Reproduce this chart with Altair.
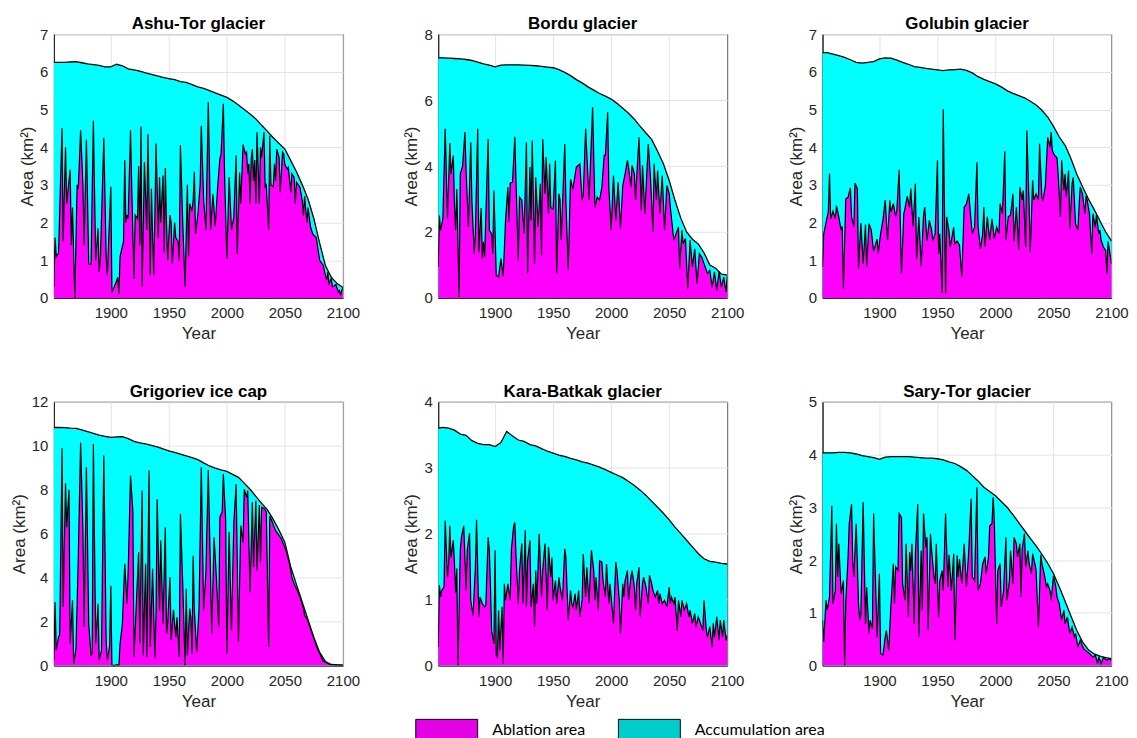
import altair as alt
import pandas as pd

# ---------------- data ----------------
X_TICKS = [1900, 1950, 2000, 2050, 2100]
TOTAL_YEARS = list(range(1850, 2101, 5))

ASHU_TOTAL = [6.25, 6.25, 6.25, 6.26, 6.27, 6.24, 6.21, 6.19, 6.17, 6.13,
              6.13, 6.20, 6.16, 6.08, 6.05, 6.02, 5.97, 5.93, 5.89, 5.85,
              5.82, 5.79, 5.74, 5.72, 5.66, 5.60, 5.56, 5.50, 5.44, 5.38,
              5.32, 5.23, 5.12, 5.00, 4.88, 4.75, 4.58, 4.42, 4.25, 4.10,
              3.95, 3.65, 3.35, 3.00, 2.62, 2.10, 1.45, 0.85, 0.55, 0.38, 0.28]
ASHU_ABL = [(1851, 0.3), (1852, 1.6), (1853, 1.1), (1855, 1.2), (1858, 4.5), (1859, 1.5),
            (1861, 4.0), (1862, 2.5), (1865, 3.4), (1866, 1.4), (1867, 2.4), (1869, 0.0),
            (1871, 3.0), (1872, 2.9), (1874, 4.45), (1876, 3.0), (1877, 1.4), (1879, 4.2),
            (1881, 0.9), (1883, 0.9), (1885, 4.7), (1887, 1.0), (1889, 1.85), (1890, 0.7),
            (1891, 1.0), (1894, 4.25), (1896, 1.1), (1897, 0.6), (1900, 2.95), (1901, 0.15),
            (1903, 0.3), (1905, 0.45), (1906, 0.55), (1907, 0.1), (1908, 1.1), (1911, 1.5),
            (1912, 3.65), (1913, 2.0), (1914, 2.2), (1915, 2.1), (1917, 4.45), (1918, 3.0),
            (1920, 0.5), (1921, 2.2), (1923, 2.1), (1924, 3.5), (1925, 1.4), (1926, 4.55),
            (1927, 0.3), (1929, 3.6), (1931, 1.8), (1932, 4.35), (1934, 0.6), (1935, 2.9),
            (1937, 0.6), (1938, 2.2), (1939, 4.1), (1941, 1.6), (1942, 3.2), (1943, 2.0),
            (1945, 3.25), (1946, 1.2), (1947, 3.45), (1948, 2.0), (1949, 1.0), (1951, 2.2),
            (1952, 2.0), (1953, 0.9), (1955, 2.0), (1956, 1.6), (1958, 1.5), (1959, 1.0),
            (1960, 4.05), (1962, 2.0), (1964, 0.3), (1966, 3.0), (1967, 1.1), (1968, 2.5),
            (1970, 2.3), (1971, 2.6), (1972, 3.35), (1973, 1.7), (1975, 2.2), (1977, 3.0),
            (1978, 4.57), (1980, 2.6), (1982, 1.8), (1984, 5.2), (1986, 1.8), (1988, 2.75),
            (1990, 1.9), (1992, 2.9), (1994, 3.7), (1995, 3.8), (1997, 5.15), (1998, 3.3),
            (2000, 1.04), (2002, 3.2), (2004, 1.8), (2006, 2.15), (2008, 3.78), (2009, 1.17),
            (2011, 3.33), (2012, 2.5), (2014, 4.07), (2016, 3.82), (2017, 3.87), (2018, 3.3),
            (2019, 3.56), (2020, 2.5), (2021, 3.69), (2022, 3.95), (2023, 3.1), (2024, 3.66),
            (2025, 2.5), (2026, 4.4), (2028, 2.5), (2029, 4.0), (2030, 3.73), (2032, 4.4),
            (2033, 2.95), (2034, 3.0), (2036, 1.8), (2037, 4.3), (2038, 3.0), (2040, 2.95),
            (2041, 3.56), (2042, 3.1), (2043, 3.95), (2045, 3.73), (2046, 2.8), (2048, 3.87),
            (2049, 3.82), (2050, 3.54), (2052, 3.42), (2053, 3.47), (2055, 2.8), (2056, 3.3),
            (2058, 3.2), (2059, 2.5), (2060, 3.07), (2063, 2.94), (2065, 2.58), (2066, 2.19),
            (2067, 2.7), (2069, 2.0), (2070, 2.4), (2072, 1.9), (2074, 1.7), (2077, 1.6),
            (2080, 1.0), (2083, 0.87), (2084, 0.73), (2086, 0.47), (2087, 0.69), (2088, 0.38),
            (2090, 0.52), (2091, 0.29), (2094, 0.36), (2096, 0.16), (2097, 0.2), (2098, 0.07),
            (2099, 0.2), (2100, 0.27)]

BORDU_TOTAL = [7.28, 7.28, 7.27, 7.26, 7.25, 7.23, 7.20, 7.15, 7.10, 7.06,
               7.01, 7.06, 7.07, 7.07, 7.07, 7.06, 7.05, 7.04, 7.02, 7.00,
               6.98, 6.92, 6.84, 6.74, 6.62, 6.52, 6.40, 6.30, 6.20, 6.12,
               6.03, 5.90, 5.75, 5.60, 5.42, 5.20, 5.00, 4.80, 4.45, 4.07,
               3.56, 2.96, 2.42, 2.00, 1.78, 1.64, 1.37, 1.00, 0.90, 0.72, 0.69]
BORDU_ABL = [(1851, 0.94), (1852, 2.5), (1853, 2.05), (1855, 2.4), (1857, 5.13), (1859, 2.4),
             (1861, 4.7), (1862, 3.76), (1864, 4.32), (1865, 2.8), (1866, 2.05), (1867, 3.3),
             (1869, 0.03), (1870, 3.76), (1872, 4.0), (1874, 5.03), (1875, 3.85), (1877, 2.15),
             (1879, 4.72), (1880, 2.95), (1882, 1.34), (1883, 1.95), (1885, 5.13), (1886, 1.39),
             (1888, 2.73), (1889, 1.19), (1890, 1.7), (1891, 1.25), (1894, 4.82), (1895, 2.05),
             (1897, 1.95), (1898, 1.34), (1899, 3.26), (1901, 0.69), (1903, 0.64), (1905, 1.19),
             (1907, 0.66), (1909, 2.35), (1911, 3.36), (1912, 2.3), (1913, 3.48), (1915, 3.51),
             (1917, 4.89), (1918, 3.56), (1920, 1.14), (1921, 3.06), (1923, 2.96), (1925, 1.95),
             (1927, 4.72), (1928, 0.74), (1930, 3.97), (1931, 2.35), (1932, 4.77), (1934, 1.04),
             (1935, 3.66), (1937, 2.15), (1939, 3.46), (1940, 1.29), (1941, 4.82), (1943, 3.16),
             (1944, 4.27), (1946, 2.55), (1947, 4.07), (1948, 2.73), (1950, 2.7), (1952, 4.17),
             (1953, 0.74), (1955, 3.16), (1956, 2.96), (1957, 1.75), (1960, 4.67), (1961, 2.96),
             (1963, 0.86), (1965, 3.6), (1967, 3.3), (1970, 3.97), (1973, 4.07), (1975, 2.96),
             (1976, 3.16), (1978, 5.13), (1980, 3.66), (1981, 2.96), (1984, 5.78), (1986, 2.75),
             (1988, 3.06), (1990, 2.96), (1992, 3.36), (1994, 4.32), (1995, 4.32), (1997, 5.63),
             (1998, 3.36), (2000, 2.05), (2002, 3.71), (2004, 2.35), (2006, 3.51), (2008, 2.1),
             (2010, 3.41), (2012, 3.76), (2014, 4.17), (2015, 3.96), (2017, 3.36), (2018, 4.02),
             (2020, 3.76), (2021, 2.96), (2022, 3.66), (2024, 4.87), (2026, 2.65), (2027, 4.02),
             (2029, 2.55), (2031, 3.97), (2032, 4.67), (2034, 3.56), (2036, 2.0), (2037, 4.07),
             (2039, 2.96), (2040, 3.86), (2042, 2.55), (2044, 3.71), (2046, 2.05), (2048, 3.41),
             (2050, 3.16), (2051, 2.75), (2054, 1.75), (2056, 1.95), (2058, 2.15), (2059, 0.89),
             (2061, 2.05), (2062, 1.64), (2064, 1.8), (2066, 0.28), (2068, 1.75), (2070, 0.94),
             (2072, 1.49), (2074, 0.43), (2076, 1.34), (2078, 1.24), (2080, 1.04), (2083, 0.74),
             (2085, 0.84), (2087, 0.33), (2089, 0.79), (2091, 0.23), (2093, 0.8), (2095, 0.33),
             (2097, 0.63), (2099, 0.18), (2100, 0.66)]

GOLUBIN_TOTAL = [6.51, 6.51, 6.47, 6.43, 6.38, 6.32, 6.25, 6.23, 6.25, 6.27,
                 6.34, 6.37, 6.36, 6.31, 6.25, 6.20, 6.14, 6.12, 6.09, 6.07,
                 6.05, 6.03, 6.05, 6.06, 6.07, 6.04, 5.97, 5.87, 5.80, 5.74,
                 5.68, 5.60, 5.50, 5.43, 5.37, 5.31, 5.22, 5.12, 4.98, 4.80,
                 4.55, 4.27, 4.05, 3.70, 3.29, 2.95, 2.63, 2.35, 2.05, 1.75, 1.51]
GOLUBIN_ABL = [(1851, 0.82), (1852, 1.7), (1854, 2.0), (1856, 2.3), (1857, 3.3), (1858, 2.1),
               (1860, 2.3), (1862, 2.1), (1863, 2.45), (1865, 2.15), (1867, 1.8), (1868, 1.9),
               (1869, 0.25), (1871, 2.63), (1873, 2.67), (1875, 2.92), (1876, 2.15), (1878, 1.88),
               (1879, 3.05), (1881, 2.9), (1882, 0.78), (1884, 1.99), (1886, 0.91), (1888, 1.95),
               (1889, 0.82), (1891, 1.97), (1893, 1.8), (1895, 1.24), (1898, 1.56), (1899, 1.19),
               (1901, 1.7), (1903, 2.06), (1905, 2.6), (1907, 1.53), (1909, 2.59), (1910, 2.28),
               (1912, 2.5), (1914, 2.16), (1915, 2.32), (1917, 3.4), (1919, 0.64), (1921, 2.23),
               (1922, 2.37), (1924, 2.7), (1926, 2.4), (1927, 2.9), (1929, 1.9), (1931, 3.03),
               (1932, 1.04), (1934, 2.15), (1936, 0.84), (1938, 2.19), (1939, 2.41), (1941, 1.51),
               (1943, 2.06), (1945, 1.8), (1946, 1.53), (1948, 1.7), (1950, 3.65), (1951, 1.17),
               (1952, 1.7), (1954, 0.13), (1955, 5.01), (1957, 0.12), (1958, 2.15), (1960, 1.75),
               (1961, 1.35), (1964, 1.88), (1965, 1.44), (1967, 1.51), (1969, 1.4), (1971, 0.56),
               (1973, 2.41), (1975, 2.5), (1977, 2.76), (1978, 2.4), (1980, 1.7), (1982, 1.88),
               (1984, 3.6), (1985, 1.9), (1987, 1.31), (1989, 1.7), (1990, 2.41), (1991, 1.35),
               (1993, 2.15), (1995, 1.53), (1997, 2.1), (1999, 1.57), (2001, 1.88), (2003, 1.7),
               (2004, 2.5), (2006, 2.23), (2008, 3.89), (2009, 1.53), (2011, 2.15), (2013, 2.2),
               (2015, 2.76), (2016, 1.5), (2018, 2.41), (2020, 1.28), (2021, 2.94), (2023, 2.6),
               (2024, 2.85), (2026, 1.35), (2027, 4.44), (2029, 2.45), (2030, 1.22), (2032, 3.12),
               (2033, 2.6), (2035, 2.76), (2037, 2.6), (2038, 4.09), (2040, 2.66), (2041, 2.6),
               (2043, 2.98), (2045, 4.26), (2047, 4.0), (2048, 4.4), (2049, 3.91), (2051, 3.78),
               (2053, 3.72), (2054, 3.29), (2056, 2.15), (2057, 3.65), (2059, 2.85), (2060, 3.29),
               (2061, 2.67), (2063, 3.38), (2064, 1.84), (2066, 3.03), (2067, 3.2), (2069, 1.97),
               (2071, 1.8), (2072, 2.41), (2073, 2.94), (2075, 2.76), (2077, 2.23), (2078, 2.7),
               (2079, 2.6), (2081, 2.23), (2083, 1.17), (2084, 2.23), (2086, 1.88), (2087, 2.2),
               (2089, 1.7), (2090, 1.8), (2091, 1.53), (2093, 1.35), (2095, 1.26), (2096, 0.64),
               (2097, 1.5), (2099, 1.1), (2100, 0.91)]

GRIG_TOTAL = [10.83, 10.83, 10.82, 10.80, 10.79, 10.72, 10.64, 10.56, 10.48, 10.43,
              10.38, 10.40, 10.41, 10.32, 10.20, 10.13, 10.08, 10.02, 9.95, 9.86,
              9.77, 9.70, 9.62, 9.54, 9.46, 9.37, 9.22, 9.08, 8.98, 8.90,
              8.83, 8.70, 8.56, 8.30, 8.02, 7.70, 7.38, 7.08, 6.65, 6.15,
              5.60, 4.50, 3.68, 2.88, 2.08, 1.28, 0.60, 0.18, 0.05, 0.03, 0.02]
GRIG_ABL = [(1851, 0.24), (1852, 2.89), (1853, 0.7), (1855, 1.3), (1856, 1.4), (1858, 9.88),
            (1859, 2.66), (1861, 8.29), (1862, 6.29), (1864, 8.0), (1865, 1.0), (1867, 2.97),
            (1868, 0.09), (1870, 0.77), (1872, 4.93), (1874, 10.15), (1876, 6.14), (1877, 1.75),
            (1879, 9.02), (1881, 1.9), (1883, 0.47), (1884, 0.55), (1885, 10.08), (1887, 1.0),
            (1889, 2.81), (1890, 0.24), (1892, 0.7), (1894, 9.55), (1896, 1.15), (1897, 0.24),
            (1899, 0.9), (1900, 3.63), (1901, 0.02), (1903, 0.0), (1905, 0.05), (1907, 0.0),
            (1908, 1.0), (1910, 1.9), (1912, 4.63), (1914, 2.81), (1915, 4.33), (1917, 8.64),
            (1919, 7.05), (1920, 0.39), (1922, 2.81), (1924, 5.16), (1925, 1.0), (1927, 7.96),
            (1928, 0.47), (1930, 4.63), (1931, 0.4), (1933, 8.87), (1934, 0.85), (1936, 4.4),
            (1938, 0.32), (1939, 2.36), (1940, 7.58), (1942, 2.51), (1943, 5.69), (1945, 1.9),
            (1947, 6.29), (1948, 1.45), (1949, 1.9), (1951, 4.02), (1952, 1.15), (1954, 2.54),
            (1956, 1.3), (1957, 2.2), (1959, 0.39), (1960, 6.9), (1962, 3.72), (1964, 0.02),
            (1965, 3.49), (1966, 0.47), (1968, 2.59), (1969, 2.2), (1970, 0.54), (1971, 5.0),
            (1972, 2.5), (1974, 0.62), (1976, 2.51), (1978, 9.02), (1980, 2.51), (1982, 4.3),
            (1984, 8.9), (1987, 1.45), (1989, 5.84), (1991, 4.0), (1993, 1.75), (1994, 6.75),
            (1996, 7.0), (1997, 8.71), (1999, 6.6), (2000, 0.54), (2002, 6.07), (2004, 1.6),
            (2006, 6.45), (2008, 8.26), (2010, 1.07), (2012, 6.37), (2014, 5.6), (2015, 8.03),
            (2017, 7.65), (2018, 7.96), (2020, 3.34), (2022, 7.43), (2023, 4.48), (2025, 7.5),
            (2026, 4.33), (2028, 7.3), (2029, 4.7), (2030, 7.2), (2032, 7.15), (2034, 7.0),
            (2036, 0.85), (2037, 6.8), (2039, 6.55), (2040, 6.4), (2042, 6.14), (2044, 5.99),
            (2047, 5.76), (2049, 5.5), (2051, 5.23), (2054, 4.63), (2056, 4.02), (2058, 3.72),
            (2060, 3.49), (2063, 3.12), (2066, 2.6), (2067, 2.28), (2069, 2.15), (2072, 1.68),
            (2078, 0.77), (2083, 0.21), (2089, 0.04), (2100, 0.02)]

KARA_TOTAL = [3.60, 3.61, 3.60, 3.57, 3.51, 3.49, 3.41, 3.37, 3.35, 3.35,
              3.32, 3.38, 3.55, 3.48, 3.42, 3.40, 3.35, 3.33, 3.29, 3.25,
              3.22, 3.19, 3.17, 3.14, 3.12, 3.09, 3.07, 3.04, 3.01, 2.97,
              2.93, 2.89, 2.85, 2.79, 2.73, 2.66, 2.58, 2.49, 2.40, 2.31,
              2.21, 2.10, 2.00, 1.90, 1.80, 1.70, 1.62, 1.58, 1.57, 1.55, 1.54]
KARA_ABL = [(1851, 0.28), (1852, 1.22), (1853, 1.04), (1854, 1.14), (1856, 1.19), (1857, 2.2),
            (1859, 1.34), (1860, 1.54), (1861, 2.12), (1862, 1.64), (1864, 1.9), (1865, 1.54),
            (1866, 1.11), (1867, 1.47), (1868, 0.0), (1870, 1.75), (1871, 1.95), (1873, 2.12),
            (1875, 1.14), (1876, 1.75), (1878, 2.01), (1879, 0.99), (1881, 0.76), (1883, 1.47),
            (1884, 2.21), (1886, 0.74), (1887, 1.04), (1889, 0.94), (1891, 0.89), (1892, 0.91),
            (1894, 1.95), (1895, 1.75), (1896, 1.2), (1897, 0.53), (1899, 0.33), (1900, 1.75),
            (1901, 0.16), (1902, 0.13), (1903, 0.84), (1904, 0.23), (1906, 0.89), (1907, 0.03),
            (1908, 1.24), (1909, 0.99), (1911, 1.24), (1913, 0.99), (1914, 1.75), (1916, 2.12),
            (1917, 2.17), (1918, 1.67), (1920, 0.94), (1921, 1.44), (1923, 1.85), (1924, 0.94),
            (1926, 2.05), (1927, 0.89), (1928, 1.59), (1930, 1.9), (1931, 0.89), (1933, 1.24),
            (1934, 0.59), (1935, 1.44), (1936, 0.94), (1938, 2.0), (1940, 1.04), (1941, 1.44),
            (1943, 1.85), (1945, 0.84), (1946, 1.8), (1948, 1.34), (1949, 1.64), (1950, 0.99),
            (1952, 1.29), (1953, 0.94), (1955, 1.34), (1956, 1.19), (1958, 0.99), (1960, 1.77),
            (1961, 1.64), (1963, 0.69), (1965, 1.14), (1966, 0.94), (1967, 0.89), (1969, 1.09),
            (1970, 0.84), (1972, 1.14), (1973, 0.74), (1975, 1.0), (1976, 1.69), (1978, 1.04),
            (1979, 1.49), (1981, 0.94), (1982, 1.39), (1983, 1.75), (1985, 1.44), (1986, 0.99),
            (1987, 1.34), (1989, 0.84), (1990, 1.59), (1992, 1.57), (1993, 1.29), (1995, 1.04),
            (1996, 1.54), (1998, 0.94), (1999, 1.24), (2001, 0.84), (2002, 0.64), (2004, 1.57),
            (2005, 1.44), (2007, 0.99), (2008, 0.48), (2010, 1.24), (2011, 1.04), (2012, 1.29),
            (2014, 1.44), (2015, 0.99), (2017, 1.34), (2018, 1.44), (2020, 1.19), (2021, 0.84),
            (2022, 1.24), (2024, 1.49), (2025, 0.74), (2027, 1.24), (2028, 1.34), (2030, 1.19),
            (2032, 0.94), (2033, 1.37), (2035, 1.24), (2036, 1.14), (2038, 1.04), (2040, 1.14),
            (2041, 0.94), (2042, 1.09), (2044, 0.94), (2046, 0.99), (2048, 0.89), (2050, 1.19),
            (2051, 0.94), (2052, 1.04), (2054, 0.94), (2055, 1.04), (2057, 0.53), (2058, 0.99),
            (2060, 0.74), (2061, 0.99), (2063, 0.84), (2065, 0.94), (2067, 0.74), (2068, 0.84),
            (2070, 0.64), (2072, 0.79), (2073, 0.59), (2075, 0.74), (2077, 0.64), (2079, 0.53),
            (2080, 0.99), (2082, 0.53), (2083, 0.43), (2085, 0.59), (2087, 0.28), (2088, 0.64),
            (2089, 0.43), (2091, 0.74), (2093, 0.38), (2094, 0.69), (2096, 0.43), (2097, 0.69),
            (2099, 0.38), (2100, 0.46)]

SARY_TOTAL = [4.03, 4.03, 4.03, 4.04, 4.04, 4.03, 4.01, 3.98, 3.96, 3.94,
              3.91, 3.95, 3.96, 3.96, 3.96, 3.96, 3.95, 3.94, 3.93, 3.93,
              3.92, 3.90, 3.86, 3.83, 3.77, 3.70, 3.60, 3.50, 3.38, 3.30,
              3.22, 3.11, 3.00, 2.86, 2.71, 2.56, 2.41, 2.27, 2.11, 1.94,
              1.74, 1.49, 1.22, 0.94, 0.67, 0.45, 0.30, 0.22, 0.18, 0.15, 0.13]
SARY_ABL = [(1851, 0.86), (1852, 0.45), (1854, 1.24), (1855, 1.05), (1857, 1.3), (1859, 3.03),
            (1860, 1.17), (1862, 1.42), (1863, 2.69), (1864, 1.68), (1865, 2.31), (1867, 1.36),
            (1869, 1.61), (1870, 0.0), (1871, 1.2), (1873, 2.06), (1874, 2.69), (1876, 3.06),
            (1877, 1.99), (1878, 1.68), (1880, 2.69), (1882, 1.17), (1883, 0.86), (1884, 0.98),
            (1886, 3.1), (1888, 0.79), (1889, 1.49), (1891, 0.61), (1892, 0.86), (1894, 0.7),
            (1895, 2.88), (1897, 1.3), (1898, 0.54), (1900, 1.74), (1901, 0.23), (1903, 0.2),
            (1905, 0.54), (1906, 0.67), (1908, 0.29), (1910, 1.17), (1912, 1.93), (1913, 1.17),
            (1914, 1.87), (1916, 1.8), (1917, 2.88), (1919, 2.81), (1920, 1.55), (1922, 1.24),
            (1923, 2.31), (1925, 0.92), (1926, 2.15), (1927, 1.8), (1928, 2.31), (1930, 0.79),
            (1931, 2.12), (1933, 3.06), (1934, 0.54), (1936, 2.18), (1937, 1.05), (1938, 2.88),
            (1940, 2.24), (1941, 2.43), (1942, 0.67), (1944, 2.5), (1945, 2.18), (1947, 1.68),
            (1948, 1.55), (1949, 2.31), (1951, 0.92), (1952, 1.61), (1954, 1.8), (1955, 1.42),
            (1957, 2.88), (1959, 1.49), (1960, 2.1), (1962, 1.42), (1964, 2.12), (1965, 0.48),
            (1967, 2.09), (1968, 1.68), (1969, 2.02), (1971, 1.55), (1973, 2.31), (1975, 1.49),
            (1977, 2.18), (1979, 3.16), (1980, 1.68), (1982, 1.61), (1984, 3.38), (1985, 1.42),
            (1987, 1.55), (1989, 1.93), (1991, 2.06), (1992, 1.74), (1994, 2.06), (1995, 2.65),
            (1997, 2.69), (1998, 3.19), (1999, 2.75), (2001, 0.79), (2002, 1.8), (2004, 1.93),
            (2005, 1.11), (2007, 1.42), (2009, 2.43), (2010, 1.24), (2012, 1.61), (2013, 2.18),
            (2015, 1.55), (2016, 2.43), (2018, 2.31), (2019, 2.06), (2021, 2.31), (2022, 1.3),
            (2023, 2.21), (2025, 2.5), (2026, 1.87), (2028, 2.18), (2029, 1.93), (2031, 1.74),
            (2032, 2.12), (2034, 1.93), (2035, 1.8), (2037, 0.73), (2039, 2.1), (2040, 1.93),
            (2042, 1.74), (2044, 1.49), (2045, 1.55), (2047, 1.42), (2048, 1.24), (2050, 1.7),
            (2052, 1.49), (2053, 1.3), (2055, 1.17), (2057, 0.86), (2059, 1.05), (2060, 0.79),
            (2062, 0.92), (2064, 0.61), (2066, 0.73), (2068, 0.54), (2069, 0.61), (2071, 0.35),
            (2073, 0.48), (2076, 0.32), (2079, 0.26), (2081, 0.23), (2084, 0.16), (2086, 0.2),
            (2088, 0.04), (2089, 0.17), (2091, 0.04), (2093, 0.15), (2096, 0.1), (2098, 0.13),
            (2100, 0.1)]

# title, total, ablation, y max, y step
PANELS = [
    ("Ashu-Tor glacier", ASHU_TOTAL, ASHU_ABL, 7, 1),
    ("Bordu glacier", BORDU_TOTAL, BORDU_ABL, 8, 2),
    ("Golubin glacier", GOLUBIN_TOTAL, GOLUBIN_ABL, 7, 1),
    ("Grigoriev ice cap", GRIG_TOTAL, GRIG_ABL, 12, 2),
    ("Kara-Batkak glacier", KARA_TOTAL, KARA_ABL, 4, 1),
    ("Sary-Tor glacier", SARY_TOTAL, SARY_ABL, 5, 1),
]

LEGEND_LABELS = ["Ablation area", "Accumulation area"]
LEGEND_COLORS = ["#E400E4", "#00CCCC"]

# ---------------- style ----------------
CYAN = "#00FFFF"
MAGENTA = "#FF00FF"
W, H = 289.5, 264.3
FONT = "Liberation Sans"


def panel(title, total, abl, ymax, ystep, with_legend=False):
    tot_df = pd.DataFrame({"year": TOTAL_YEARS, "area": total})
    abl_df = pd.DataFrame(abl, columns=["year", "area"])
    x = alt.X("year:Q",
              scale=alt.Scale(domain=[1851, 2100], nice=False, zero=False),
              axis=alt.Axis(values=X_TICKS, format="d", title="Year"))
    y = alt.Y("area:Q",
              scale=alt.Scale(domain=[0, ymax], nice=False),
              axis=alt.Axis(values=list(range(0, ymax + 1, ystep)), format="d",
                            title="Area (km²)"))
    acc = alt.Chart(tot_df).mark_area(color=CYAN, clip=True).encode(x=x, y=y)
    abl_area = alt.Chart(abl_df).mark_area(color=MAGENTA, clip=True).encode(x=x, y=y)
    abl_line = alt.Chart(abl_df).mark_line(color="black", strokeWidth=1.2, clip=True).encode(x=x, y=y)
    tot_line = alt.Chart(tot_df).mark_line(color="black", strokeWidth=1.3, clip=True).encode(x=x, y=y)
    layers = [acc, abl_area, abl_line, tot_line]
    if with_legend:
        leg_df = pd.DataFrame({"kind": LEGEND_LABELS})
        leg = (alt.Chart(leg_df).mark_rect()
               .encode(color=alt.Color(
                   "kind:N",
                   scale=alt.Scale(domain=LEGEND_LABELS, range=LEGEND_COLORS),
                   legend=alt.Legend(
                       title=None, orient="none", legendX=362, legendY=665.5,
                       direction="horizontal",
                       symbolType="M-1,-0.35H1V0.35H-1Z", symbolSize=3844,
                       symbolStrokeColor="black", symbolStrokeWidth=1,
                       labelFont="Lato", labelFontSize=16, labelColor="black",
                       labelOffset=14, columnPadding=30)))
               .transform_filter("false"))
        layers.append(leg)
    return alt.layer(*layers).properties(
        width=W, height=H,
        title=alt.TitleParams(title, font=FONT, fontSize=17, fontWeight="bold",
                              color="black", anchor="middle", offset=-6))


charts = [panel(*p, with_legend=(i == 4)) for i, p in enumerate(PANELS)]
chart = (alt.concat(*charts, columns=3, spacing={"row": 103.3, "column": 95},
                    bounds="flush")
         .properties(padding={"left": 1, "top": 5.5, "right": 0, "bottom": 0})
         .configure_view(stroke="#262626", strokeWidth=1)
         .configure_axis(labelFont=FONT, labelFontSize=15, labelColor="#262626",
                         titleFont=FONT, titleFontSize=17, titleFontWeight="normal",
                         titleColor="#262626", gridColor="#E3E3E3", gridWidth=1,
                         domainColor="#262626", ticks=False, labelPadding=6,
                         labelFlush=False, labelOverlap=False, zindex=1)
         .configure_axisX(labelPadding=8, titlePadding=4.5)
         .configure_axisY(titlePadding=3))

chart.save("out.html", embed_options={"renderer": "svg", "actions": False})
